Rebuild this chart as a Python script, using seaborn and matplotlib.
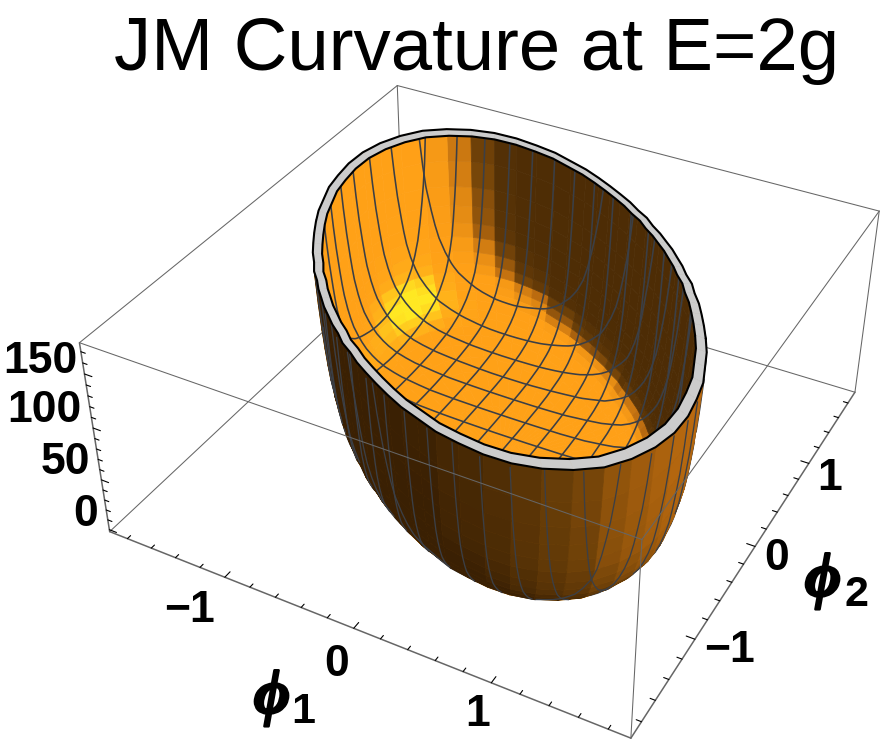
import numpy as np
import matplotlib
matplotlib.use("Agg")
import matplotlib.pyplot as plt
import matplotlib.patheffects as pe
import seaborn as sns
from mpl_toolkits.mplot3d.art3d import Poly3DCollection

# ---------- values ----------
title = "JM Curvature at E=2g"
# rim of the bowl in the (phi1, phi2) plane, every 5 degrees over half a turn
rim_radius = [1.46, 1.40, 1.35, 1.31, 1.27, 1.25, 1.22, 1.21, 1.20, 1.20, 1.20, 1.21,
              1.22, 1.25, 1.27, 1.31, 1.35, 1.40, 1.46, 1.53, 1.60, 1.69, 1.77, 1.86,
              1.94, 2.00, 2.04, 2.06, 2.04, 2.00, 1.94, 1.86, 1.77, 1.69, 1.60, 1.53]
# height of the surface against the fraction of the way to the rim
ring_fraction = [0.0, 0.15, 0.3, 0.4, 0.5, 0.58, 0.65, 0.7, 0.74, 0.78, 0.81, 0.84,
                 0.865, 0.885, 0.905, 0.92, 0.935, 0.95, 0.96, 0.97, 0.98, 0.99, 1.0]
ring_height = [3, 3, 3.5, 4, 5, 7, 9, 11.5, 14, 18, 22, 27,
               33, 39, 46, 54, 64, 77, 90, 106, 124, 148, 178]
mesh_levels = [-1.4, -1.2, -1.0, -0.8, -0.6, -0.4, -0.2, 0.0, 0.2, 0.4, 0.6, 0.8, 1.0, 1.2, 1.4]
x_major = [-1, 0, 1]
y_major = [-1, 0, 1]
z_major = [0, 50, 100, 150]
x_minor = [-1.8, -1.6, -1.4, -1.2, -0.8, -0.6, -0.4, -0.2, 0.2, 0.4, 0.6, 0.8, 1.2, 1.4, 1.6, 1.8]
y_minor = x_minor
z_minor = [10, 20, 30, 40, 60, 70, 80, 90, 110, 120, 130, 140, 160, 170]

# ---------- layout ----------
W, H = 881, 741
XLO, XHI, YLO, YHI, ZLO, ZHI = -1.95, 1.95, -1.95, 1.95, -2, 178
RING_IN = 0.95
CX, CY = 0.04, -0.03
corner_world = np.array([[XLO, YLO, ZLO], [XHI, YLO, ZLO], [XHI, YHI, ZLO], [XLO, YHI, ZLO],
                         [XLO, YLO, ZHI], [XHI, YLO, ZHI], [XHI, YHI, ZHI], [XLO, YHI, ZHI]], float)
corner_px = np.array([[109, 531], [631, 738], [855, 392], [404, 257],
                      [80, 343], [642, 540], [879, 211], [397, 85]], float)

sns.set_theme(style="white")
plt.rcParams["font.family"] = ["Liberation Sans", "DejaVu Sans"]
shade_map = sns.blend_palette(["#3a2003", "#6b3f08", "#b8690f", "#ffa017", "#ffe822"], n_colors=256, as_cmap=True)

# ---------- camera fitted on the box corners ----------
Tw = np.diag([1 / 2, 1 / 2, 1 / 90, 1.0])
Tw[2, 3] = -1
Tp = np.array([[1 / 440, 0, -1], [0, 1 / 440, -0.85], [0, 0, 1.0]])
rows = []
for Xw, px in zip(corner_world, corner_px):
    Xn = Tw @ np.r_[Xw, 1]
    u, v, _ = Tp @ np.r_[px, 1]
    rows.append(np.r_[Xn, 0, 0, 0, 0, -u * Xn])
    rows.append(np.r_[0, 0, 0, 0, Xn, -v * Xn])
Pn = np.linalg.svd(np.array(rows))[2][-1].reshape(3, 4)
P = np.linalg.inv(Tp) @ Pn @ Tw
if P[2] @ np.array([0, 0, 80, 1.0]) < 0:
    P = -P
P = P / (P[2] @ np.array([0, 0, 80, 1.0]))
cam = np.linalg.svd(P)[2][-1]
cam = cam[:3] / cam[3]

fig = plt.figure(figsize=(W / 100, H / 100), dpi=100)
ax = fig.add_axes([0, 0, 1, 1], projection="3d", computed_zorder=False)
ax.set_axis_off()
ax.apply_aspect = lambda position=None: None
vl = ax.viewLim
vw, vh = vl.x1 - vl.x0, vl.y1 - vl.y0
M = np.vstack([vl.x0 * P[2] + vw / W * P[0],
               vl.y1 * P[2] - vh / H * P[1],
               [0, 0, 0, -1.0],
               P[2]])
ax.get_proj = lambda: M
ax.M = M

# ---------- surface helpers ----------
rim_half = np.array(rim_radius)
rim_all = np.r_[rim_half, rim_half]
theta = np.deg2rad(np.arange(72) * 5.0)
rho = np.array(ring_fraction)
zed = np.array(ring_height, float)
scale = np.array([1 / 4, 1 / 4, 0.45 / 180])
R_dir = np.array([0.884, 0.467, 0.0])
C_dir = np.array([0.48, -0.877, 0.0])


def rim_at(t):
    return np.interp(np.mod(t, 2 * np.pi), np.r_[theta, 2 * np.pi], np.r_[rim_all, rim_all[0]])


def surf(x, y):
    t = np.arctan2(y - CY, x - CX)
    f = np.hypot(x - CX, y - CY) / rim_at(t)
    return f, np.interp(f, rho, zed)


def polar(frac, j):
    return [CX + frac * rim_all[j] * np.cos(theta[j]), CY + frac * rim_all[j] * np.sin(theta[j])]


def shade(n, outer):
    nr, nc, nz = n @ R_dir, n @ C_dir, n[2]
    if outer:
        s = 0.22 + 0.30 * nr + 0.05 * nc + 0.35 * nz
    else:
        lit = nr + 0.1 * nc + 1.5 * nz - 0.05
        s = 0.10 + 0.65 / (1 + np.exp(-lit / 0.10))
        d2 = (nr - 0.45) ** 2 + (nc - 0.60) ** 2 + (nz - 0.66) ** 2
        s += 0.35 * np.exp(-d2 / 0.08)
    return float(np.clip(s, 0, 1))


inner_polys, inner_cols, outer_polys, outer_cols = [], [], [], []
nt = len(theta)
for i in range(len(rho) - 1):
    for j in range(nt):
        k = (j + 1) % nt
        quad = np.array([polar(rho[i], j) + [zed[i]],
                         polar(rho[i + 1], j) + [zed[i + 1]],
                         polar(rho[i + 1], k) + [zed[i + 1]],
                         polar(rho[i], k) + [zed[i]]])
        n = np.cross((quad[2] - quad[0]) * scale, (quad[3] - quad[1]) * scale)
        n = n / np.linalg.norm(n)
        if n[2] < 0:
            n = -n
        centre = quad.mean(axis=0)
        if n @ ((cam - centre) * scale) > 0:
            inner_polys.append(quad)
            inner_cols.append(shade_map(shade(n, False)))
        else:
            outer_polys.append(quad)
            outer_cols.append(shade_map(shade(-n, True)))

ring_polys = []
for j in range(nt):
    k = (j + 1) % nt
    ring_polys.append(np.array([polar(RING_IN, j) + [zed[-1]], polar(1.0, j) + [zed[-1]],
                                polar(1.0, k) + [zed[-1]], polar(RING_IN, k) + [zed[-1]]]))


def add_polys(polys, cols, z):
    c = Poly3DCollection(polys, facecolors=cols, edgecolors=cols, linewidths=0.5, zsort="average")
    c.set_zorder(z)
    ax.add_collection3d(c, autolim=False)


def box_line(a, b, z, lw, col="#666666"):
    pa, pb = corner_world[a], corner_world[b]
    ax.plot3D([pa[0], pb[0]], [pa[1], pb[1]], [pa[2], pb[2]], color=col, lw=lw, zorder=z, solid_capstyle="round")


# back edges of the box, behind the bowl
for a, b in [(3, 7), (3, 0), (3, 2), (7, 4), (7, 6)]:
    box_line(a, b, 1, 0.75)
add_polys(inner_polys, inner_cols, 2)
add_polys(outer_polys, outer_cols, 4)
add_polys(ring_polys, ["#cccccc"] * len(ring_polys), 6)

# ---------- mesh lines ----------
t_line = np.linspace(-2.3, 2.3, 1401)
eps = 0.004
for level in mesh_levels:
    for orient in (0, 1):
        xs = np.full_like(t_line, level) if orient == 0 else t_line
        ys = t_line if orient == 0 else np.full_like(t_line, level)
        f, zs = surf(xs, ys)
        gx = (surf(xs + eps, ys)[1] - surf(xs - eps, ys)[1]) / (2 * eps)
        gy = (surf(xs, ys + eps)[1] - surf(xs, ys - eps)[1]) / (2 * eps)
        facing = -gx * (cam[0] - xs) - gy * (cam[1] - ys) + (cam[2] - zs)
        state = np.where(f >= 1, 0, np.where(facing > 0, 1, 2))
        edges = np.r_[0, np.nonzero(np.diff(state))[0] + 1, len(state)]
        for a, b in zip(edges[:-1], edges[1:]):
            if state[a] == 0 or b - a < 3:
                continue
            inner = state[a] == 1
            ax.plot3D(xs[a:b], ys[a:b], zs[a:b], color="#3b3f46", lw=1.15 if inner else 0.95,
                      zorder=3 if inner else 5)

# rim outlines
for frac in (RING_IN, 1.0):
    rim_pts = np.array([polar(frac, j % nt) for j in range(nt + 1)])
    ax.plot3D(rim_pts[:, 0], rim_pts[:, 1], np.full(nt + 1, zed[-1]), color="black", lw=1.5, zorder=7)

# front edges and the three framed axes
for a, b in [(4, 5), (5, 6), (5, 1), (6, 2)]:
    box_line(a, b, 8, 0.75)
for a, b in [(0, 1), (1, 2), (4, 0)]:
    box_line(a, b, 8, 1.1)


# ---------- ticks ----------
def ticks(values, kind, length):
    for v in values:
        if kind == "x":
            ax.plot3D([v, v], [YLO, YLO + length], [ZLO, ZLO], color="black", lw=0.8, zorder=9)
        elif kind == "y":
            ax.plot3D([XHI, XHI - length], [v, v], [ZLO, ZLO], color="black", lw=0.8, zorder=9)
        else:
            ax.plot3D([XLO, XLO + length], [YLO, YLO], [v, v], color="black", lw=0.8, zorder=9)


ticks(x_major, "x", 0.06)
ticks(x_minor, "x", 0.035)
ticks(y_major, "y", 0.06)
ticks(y_minor, "y", 0.035)
ticks(z_major, "z", 0.06)
ticks(z_minor, "z", 0.035)


# ---------- text ----------
def put(x, y, s, **kw):
    return fig.text(x / W, 1 - y / H, s, **kw)


put(477, 70, title, fontsize=53.6, ha="center", va="baseline", color="black")
tick_font = dict(fontsize=32, fontweight="bold", color="black", va="center")
x_label_px = [(190, 610), (337, 665), (478, 715)]
y_label_px = [(729, 650), (777, 558), (830, 478)]
z_right_px = [(98, 514), (90, 462), (82, 410), (77, 361)]
for v, (px, py) in zip(x_major, x_label_px):
    put(px, py, str(v).replace("-", "\u2212"), ha="center", **tick_font)
for v, (px, py) in zip(y_major, y_label_px):
    put(px, py, str(v).replace("-", "\u2212"), ha="center", **tick_font)
for v, (px, py) in zip(z_major, z_right_px):
    put(px, py, str(v), ha="right", **tick_font)

phi_font = dict(fontsize=45, fontweight="bold", fontstyle="italic", color="black",
                family=["Liberation Serif", "DejaVu Serif"], ha="center", va="center")
stroke = [pe.withStroke(linewidth=1.8, foreground="black")]
put(272, 698, "\u03d5", path_effects=stroke, **phi_font)
put(303, 712, "1", fontsize=31, fontweight="bold", color="black", ha="center", va="center")
put(823, 581, "\u03d5", path_effects=stroke, **phi_font)
put(856, 595, "2", fontsize=31, fontweight="bold", color="black", ha="center", va="center")

fig.savefig("out.png", dpi=100)
